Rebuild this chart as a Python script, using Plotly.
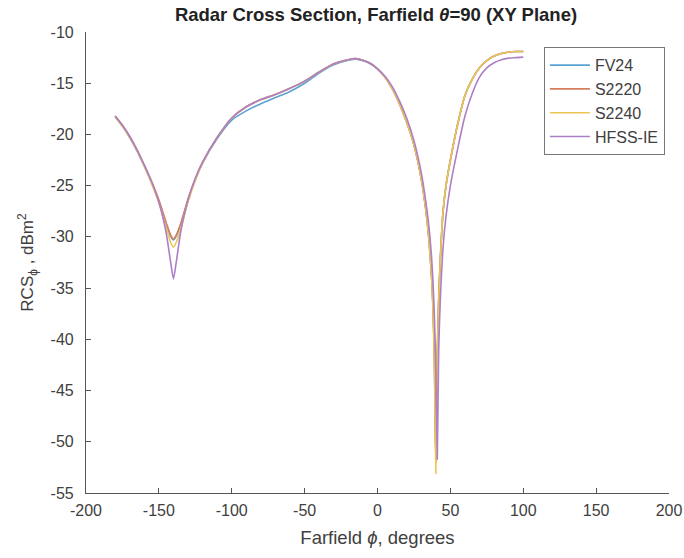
import plotly.graph_objects as go

phi = [-180, -175, -170, -165, -160, -155, -150, -145, -142, -140, -138, -135, -130, -125, -120,
       -110, -100, -90, -80, -70, -60, -50, -40, -30, -20, -15, -10, -5, 0, 5, 10, 15, 20, 25,
       30, 33, 35, 37, 38, 39, 40, 41, 42, 43, 45, 47, 50, 55, 60, 65, 70, 75, 80, 85, 90, 95, 100]

fv24 = [-18.3, -19.2, -20.3, -21.6, -23.1, -24.7, -26.5, -28.7, -29.9, -30.3, -29.9, -28.8, -26.4, -24.4, -22.8,
        -20.4, -18.6, -17.7, -17.0, -16.4, -15.8, -15.0, -14.0, -13.2, -12.75, -12.65, -12.8, -13.1, -13.6, -14.4, -15.5, -17.0, -18.8, -21.0,
        -24.3, -27.2, -29.8, -33.6, -36.6, -41.5, -51.8, -41.5, -36.0, -32.5, -27.5, -25.0, -22.5, -19.0, -16.2, -14.6, -13.5, -12.8, -12.35, -12.1, -11.95, -11.9, -11.9]

s2220 = [-18.2, -19.1, -20.2, -21.5, -23.0, -24.6, -26.4, -28.6, -29.8, -30.2, -29.8, -28.7, -26.3, -24.3, -22.7,
         -20.3, -18.4, -17.3, -16.6, -16.1, -15.5, -14.8, -13.9, -13.1, -12.7, -12.6, -12.75, -13.05, -13.6, -14.4, -15.5, -17.0, -18.8, -21.0,
         -24.3, -27.2, -29.8, -33.6, -36.6, -41.5, -52.0, -41.5, -36.0, -32.5, -27.5, -25.0, -22.5, -19.0, -16.2, -14.6, -13.5, -12.8, -12.35, -12.1, -11.95, -11.9, -11.9]

s2240 = [-18.3, -19.2, -20.3, -21.6, -23.1, -24.8, -26.7, -29.1, -30.5, -31.0, -30.5, -29.2, -26.6, -24.5, -22.8,
         -20.3, -18.4, -17.3, -16.6, -16.1, -15.5, -14.8, -13.9, -13.1, -12.7, -12.6, -12.75, -13.05, -13.6, -14.4, -15.5, -17.0, -18.8, -21.0,
         -24.3, -27.2, -29.8, -33.6, -36.8, -42.5, -53.1, -42.0, -36.2, -32.6, -27.5, -25.0, -22.5, -19.0, -16.2, -14.6, -13.5, -12.8, -12.35, -12.1, -11.95, -11.9, -11.9]

hfss = [-18.2, -19.1, -20.2, -21.5, -23.0, -24.6, -26.6, -29.6, -32.4, -34.1, -32.4, -29.5, -26.4, -24.3, -22.7,
        -20.3, -18.4, -17.3, -16.6, -16.1, -15.5, -14.8, -13.9, -13.1, -12.7, -12.6, -12.75, -13.05, -13.6, -14.3, -15.3, -16.7, -18.4, -20.6,
        -23.7, -26.4, -28.6, -31.8, -34.2, -37.5, -43.0, -51.7, -41.0, -36.5, -31.0, -28.0, -25.0, -21.4, -18.2, -16.0, -14.4, -13.5, -13.0, -12.7, -12.55, -12.5, -12.45]

names = ["FV24", "S2220", "S2240", "HFSS-IE"]
colors = ["#5ba3d4", "#d67f5e", "#ecc557", "#ad7fc6"]
series = [fv24, s2220, s2240, hfss]

x_ticks = [-200, -150, -100, -50, 0, 50, 100, 150, 200]
y_ticks = [-55, -50, -45, -40, -35, -30, -25, -20, -15, -10]

fig = go.Figure()
for name, col, vals in zip(names, colors, series):
    fig.add_trace(go.Scatter(x=phi, y=vals, mode="lines", name=name,
                             line=dict(color=col, width=1.6, shape="spline", smoothing=0.6)))

W, H = 684, 558
font_family = "Liberation Sans, Arial, sans-serif"
fig.update_layout(
    width=W, height=H,
    margin=dict(l=86, r=15, t=32, b=65, autoexpand=False),
    paper_bgcolor="white", plot_bgcolor="white",
    font=dict(family=font_family, size=16, color="#404040"),
    title=dict(text="<b>Radar Cross Section, Farfield <i>θ</i>=90 (XY Plane)</b>",
               x=376 / W, xanchor="center", y=1 - 15 / H, yanchor="middle",
               font=dict(size=18.5, color="#222222")),
    showlegend=True,
    legend=dict(x=0.993, xanchor="right", y=0.967, yanchor="top",
                bordercolor="#777777", borderwidth=1, bgcolor="white",
                font=dict(size=16, color="#404040"), tracegroupgap=0, itemwidth=40),
    xaxis=dict(range=[-200, 200], tickvals=x_ticks, ticktext=[str(v) for v in x_ticks],
               ticks="inside", ticklen=5, tickcolor="#555555", automargin=False,
               showline=True, linecolor="#555555", linewidth=1.2, mirror=False,
               showgrid=False, zeroline=False, ticklabelstandoff=3,
               title=dict(text="Farfield <i>ϕ</i>, degrees", font=dict(size=18.5), standoff=12)),
    yaxis=dict(range=[-55, -10], tickvals=y_ticks, ticktext=[str(v) for v in y_ticks],
               ticks="inside", ticklen=5, tickcolor="#555555", automargin=False,
               showline=True, linecolor="#555555", linewidth=1.2, mirror=False,
               showgrid=False, zeroline=False, ticklabelstandoff=8,
               title=dict(text="RCS<sub>ϕ</sub> , dBm<sup>2</sup>", font=dict(size=17), standoff=12)),
)

fig.write_html("out.html", config={"displayModeBar": False},
               post_script="document.body.style.margin='0';")
